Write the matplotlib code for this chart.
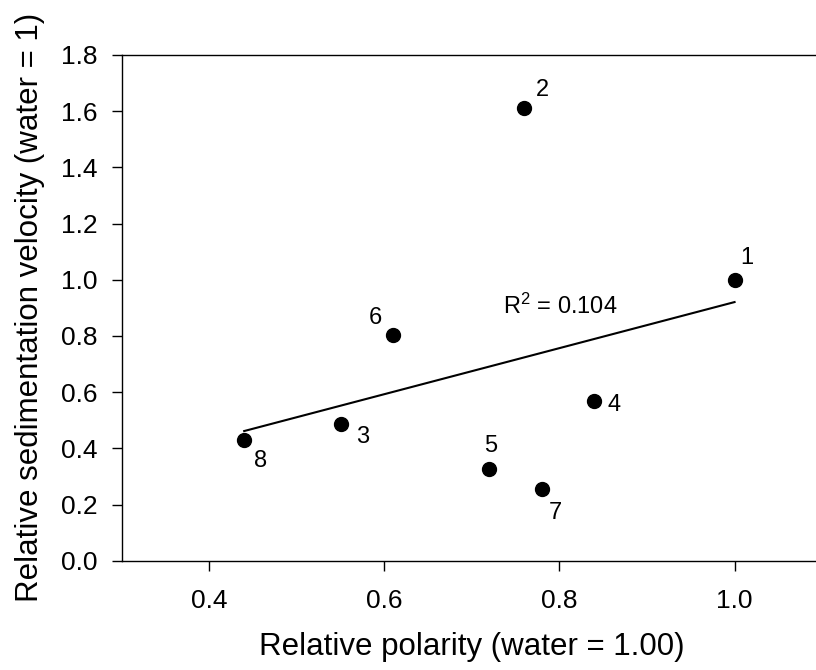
import numpy as np
import matplotlib
matplotlib.use('Agg')
import matplotlib.pyplot as plt

plt.rcParams['font.family'] = ['Liberation Sans', 'DejaVu Sans']
plt.rcParams['mathtext.fontset'] = 'custom'
plt.rcParams['mathtext.rm'] = 'Liberation Sans'
plt.rcParams['mathtext.it'] = 'Liberation Sans'

# data
labels = ['1', '2', '3', '4', '5', '6', '7', '8']
polarity = [1.00, 0.76, 0.55, 0.84, 0.72, 0.61, 0.78, 0.44]
velocity = [1.00, 1.61, 0.485, 0.57, 0.325, 0.805, 0.255, 0.43]

# label offsets in points (dx, dy)
offsets = {'1': (9, 16), '2': (13, 13), '3': (16, -9), '4': (14, -3),
           '5': (1, 17), '6': (-13, 12), '7': (10, -17), '8': (12, -15)}

x = np.array(polarity)
y = np.array(velocity)
slope, intercept = np.polyfit(x, y, 1)
r2 = np.corrcoef(x, y)[0, 1] ** 2

fig = plt.figure(figsize=(8.16, 6.7), dpi=100)
ax = fig.add_axes([0.149, 0.163, 0.8585, 0.755])

xl = np.array([x.min(), x.max()])
ax.plot(xl, slope * xl + intercept, color='black', lw=1.5)
ax.scatter(x, y, s=100, color='black', zorder=3)

for lab, xi, yi in zip(labels, x, y):
    dx, dy = offsets[lab]
    ax.annotate(lab, (xi, yi), xytext=(dx, dy), textcoords='offset points',
                ha='center', va='center', fontsize=17)

ax.text(0.736, 0.905, r'R$^{2}$ = %.3f' % r2, fontsize=17, ha='left', va='center')

ax.set_xlim(0.3, 1.1)
ax.set_ylim(0, 1.8)
ax.set_xticks([0.4, 0.6, 0.8, 1.0])
ax.set_xticklabels(['0.4', '0.6', '0.8', '1.0'])
ax.set_yticks(np.arange(0, 1.81, 0.2))
ax.set_yticklabels(['%.1f' % v for v in np.arange(0, 1.81, 0.2)])
ax.tick_params(direction='out', length=7, width=1, labelsize=19)
ax.tick_params(axis='y', pad=10)
ax.tick_params(axis='x', pad=13)
for sp in ax.spines.values():
    sp.set_linewidth(1)

ax.set_xlabel('Relative polarity (water = 1.00)', fontsize=22.5, labelpad=14)
ax.set_ylabel('Relative sedimentation velocity (water = 1)', fontsize=22.5, labelpad=12)

fig.savefig('out.png', dpi=100)
